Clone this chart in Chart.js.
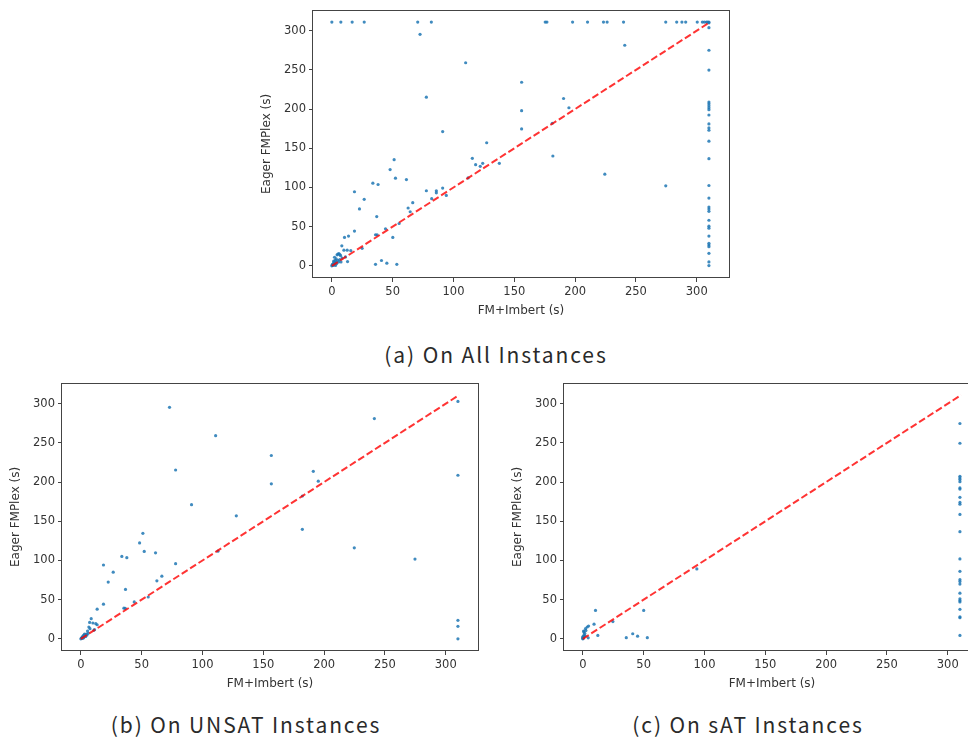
<!DOCTYPE html>
<html>
<head>
<meta charset="utf-8">
<script src="https://cdn.jsdelivr.net/npm/chart.js@4/dist/chart.umd.min.js"></script>
<style>
  html, body { margin: 0; padding: 0; background: #fff; width: 968px; height: 740px; overflow: hidden; position: relative; }
  canvas { position: absolute; }
  .cap { position: absolute; font-family: "Noto Sans CJK KR", "Noto Sans", sans-serif; font-size: 21px; color: #2a2a2a; white-space: nowrap; transform: translateX(-50%); letter-spacing: 1.9px; }
</style>
</head>
<body>
<canvas id="cA" width="486" height="328" style="left:253px; top:0px;"></canvas>
<canvas id="cB" width="486" height="328" style="left:2px; top:373px;"></canvas>
<canvas id="cC" width="486" height="328" style="left:504px; top:373px;"></canvas>
<div class="cap" style="left:496px; top:339px;">(a) On All Instances</div>
<div class="cap" style="left:246px; top:709px;">(b) On UNSAT Instances</div>
<div class="cap" style="left:748px; top:709px;">(c) On sAT Instances</div>
<script>
// ---------- data ----------
const tickValues = [0, 50, 100, 150, 200, 250, 300];
const diagonal = [0, 311];
const xLabel = "FM+Imbert (s)";
const yLabel = "Eager FMPlex (s)";

// (a) all instances
const allX = [
  0, 7.4, 16.7, 26.6, 70.6, 81.8, 175.4, 176.8, 197.9, 210.2, 223.3, 226.3, 239.8, 274.5, 283.5, 287.8, 290.9, 300.4, 304.6, 306.2, 307.9, 309, 310, 310,
  310, 310, 310, 310, 310, 310, 310, 310, 310, 310, 310, 310, 310, 310, 310, 310, 310, 310, 310, 310, 310, 310, 310, 310, 310, 310, 310, 310, 310,
  72.5, 110, 240.8, 77.7, 156, 156, 156, 190.5, 194.9, 181.2, 91.1, 127.3, 181.7, 115.5, 118.2, 124, 122, 137.7, 112, 224.4, 274.5,
  51.2, 47.9, 52.3, 61.3, 33.7, 38, 77.7, 85.9, 85.9, 91.1, 94.1, 82.1, 18.6, 26.6, 22.7, 62.7, 66.5, 64.4, 36.9, 55.3, 44.1, 50.1, 35.9, 37.2,
  18.6, 10.4, 13.7, 8.2, 9.9, 12.6, 15.6, 24.9, 12.9, 35.9, 40.8, 45.2, 53.4, 11.2,
  0, 0.3, 0.6, 1, 1.2, 1.8, 2, 2.5, 2.8, 3.2, 3.5, 4, 4.3, 5, 5.8, 6.6, 7.2, 4.8, 5.5, 6.5, 7.5, 3, 1.5, 8.5, 2.2
];
const allY = [
  311, 311, 311, 311, 311, 311, 311, 311, 311, 311, 311, 311, 311, 311, 311, 311, 311, 311, 311, 311, 311, 311, 311, 310,
  303.8, 275, 249.8, 208.9, 206.8, 204.2, 201.7, 199.2, 192.4, 181, 176, 173, 159, 136.7, 102.5, 86.5, 75, 72.5, 69.6, 58.2, 50.6, 48.1, 38, 28.7, 26.6, 24.4, 16, 5, 0.4,
  295.4, 259.1, 281.4, 215.2, 234.2, 197.9, 174.7, 213.5, 201.7, 181.9, 171.3, 157, 140.1, 137.1, 129.1, 130.8, 127, 130.8, 112.2, 116.9, 102.1,
  135.4, 122.8, 111.8, 110.1, 105.5, 103.8, 95.8, 95.8, 93.2, 99.2, 89.9, 85.7, 94.5, 84.8, 72.6, 73.8, 80.6, 69, 62.9, 54, 47.3, 36.3, 39.7, 39.7,
  44.3, 36.3, 38, 25.5, 20, 20, 19.4, 22.4, 5.5, 2, 6.8, 3.4, 1.9, 11.4,
  0, 1, 2, 0.5, 3, 1.5, 4.5, 2.5, 7, 5, 9, 3, 14, 15, 15.5, 14.5, 13, 7, 5, 8, 5, 0.5, 6, 10, 11
];

// (b) UNSAT instances
const unsatX = [
  72.9, 110.8, 77.9, 156.6, 156.6, 241.3, 310, 310, 91, 127.8, 191.1, 195.2, 182.1, 182.1, 224.8, 274.7, 112.7,
  51, 48.3, 52.1, 61.4, 33.7, 37.8, 77.9, 18.6, 26.6, 22.5, 66.6, 62.5, 36.7, 55.4, 43.9, 18.6, 35.4, 36.5, 13.4,
  8.5, 12.3, 9.9, 6.6, 7.2, 11.2, 10.7, 13.4, 310, 310, 310,
  0, 0.5, 1, 1.5, 2, 2.5, 3, 4, 4.5, 5, 6, 3, 1, 5.5, 7.5, 2
];
const unsatY = [
  295.3, 259.2, 215.4, 233.9, 197.7, 281, 302.9, 208.7, 171.2, 156.9, 213.7, 201.1, 182.2, 139.7, 116.1, 101.8, 111.9,
  134.6, 122.4, 111.5, 109.8, 105.2, 103.5, 95.9, 94.2, 85, 72.4, 79.9, 74, 63.1, 53.4, 47.1, 44.2, 39.1, 39, 37.9,
  25.7, 19.4, 20.2, 15, 21, 11.8, 11, 18, 23.6, 16, 0,
  0, 1, 2, 3, 4, 2, 5, 3, 6, 5, 7, 6, 0.5, 10, 13, 1
];

// (c) SAT instances
const satX = [
  310, 310, 310, 310, 310, 310, 310, 310, 310, 310, 310, 310, 310, 310, 310, 310, 310, 310, 310, 310, 310, 310, 310, 310, 310, 310,
  93.7, 10.4, 50, 24.7, 9.2, 12.3, 35.7, 41, 45, 53, 3.6, 4.7, 2.2, 0.8, 4.4, 1.9,
  0, 0, 0.5, 1, 0.3, 0.2, 1.5, 0.6, 2.5, 0
];
const satY = [
  274.7, 249.5, 207.4, 205.3, 203.2, 200.5, 192.5, 191, 180.5, 174, 171.7, 158.7, 136.7, 101.9, 86.2, 75.5, 73, 69.9, 58.3, 51.1, 48.8, 47.1, 37.6, 28.2, 26.9, 4.4,
  89.2, 36.2, 36.2, 22, 18.7, 4.4, 1.5, 6.5, 3.4, 1.5, 15.1, 16.4, 13, 8.8, 1.3, 3.8,
  0, 1, 2, 5, 3, 0.5, 7, 10, 10.5, 2.5
];

// ---------- drawing ----------
const framePlugin = {
  id: 'frame',
  afterDraw(chart) {
    const a = chart.chartArea, ctx = chart.ctx;
    ctx.save();
    ctx.strokeStyle = '#444';
    ctx.lineWidth = 1;
    ctx.strokeRect(Math.round(a.left) - 0.5, Math.round(a.top) + 0.5, Math.round(a.right - a.left) + 1, Math.round(a.bottom - a.top) - 1);
    ctx.restore();
  }
};

function axisOpts(isX) {
  return {
    type: 'linear',
    min: -15.5,
    max: 326.5,
    border: { display: false },
    grid: { display: true, drawOnChartArea: false, drawTicks: true, tickLength: 4, color: '#444', lineWidth: 1 },
    ticks: { color: '#333', padding: 3, font: { family: 'DejaVu Sans', size: 11.5 } },
    title: {
      display: true,
      text: isX ? xLabel : yLabel,
      color: '#333',
      font: { family: 'DejaVu Sans', size: 12 },
      padding: isX ? { top: 0, bottom: 10 } : { top: 7, bottom: 0 }
    },
    afterBuildTicks(scale) { scale.ticks = tickValues.map(v => ({ value: v })); },
    afterFit(scale) { if (isX) scale.height = 50; else scale.width = 60; }
  };
}

function makeChart(id, xs, ys) {
  const pts = xs.map((x, i) => ({ x: x, y: ys[i] }));
  new Chart(document.getElementById(id), {
    type: 'scatter',
    data: {
      datasets: [
        {
          type: 'line',
          data: diagonal.map(v => ({ x: v, y: v })),
          borderColor: 'rgba(255,0,0,0.8)',
          borderWidth: 2,
          borderDash: [7, 3],
          pointRadius: 0,
          fill: false
        },
        {
          data: pts,
          pointRadius: 1.6,
          pointBorderWidth: 0,
          backgroundColor: 'rgba(31,119,180,0.85)',
          borderColor: 'rgba(31,119,180,0.85)'
        }
      ]
    },
    options: {
      responsive: false,
      animation: false,
      layout: { padding: { top: 7, right: 10, left: 0, bottom: 0 } },
      plugins: { legend: { display: false }, tooltip: { enabled: false } },
      scales: { x: axisOpts(true), y: axisOpts(false) }
    },
    plugins: [framePlugin]
  });
}

makeChart('cA', allX, allY);
makeChart('cB', unsatX, unsatY);
makeChart('cC', satX, satY);
</script>
</body>
</html>
